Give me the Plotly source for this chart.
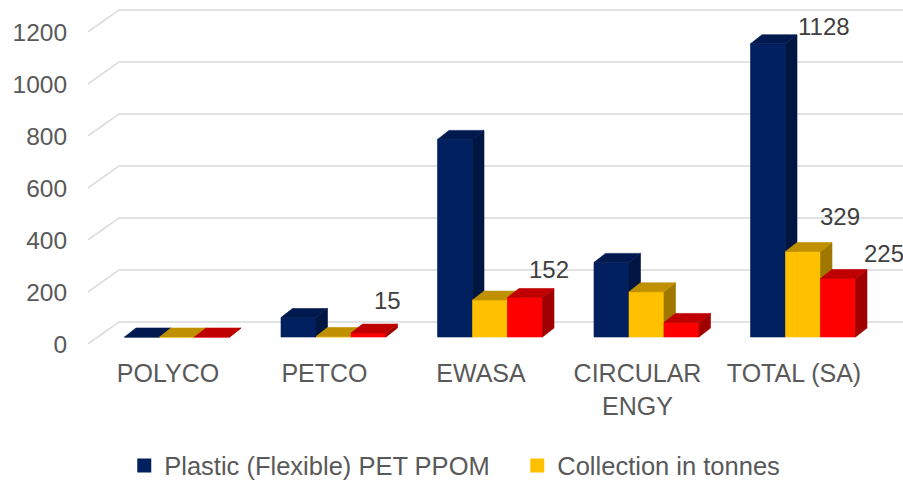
import plotly.graph_objects as go

# ---------------- data ----------------
categories = ["POLYCO", "PETCO", "EWASA", "CIRCULAR<br>ENGY", "TOTAL (SA)"]
series_names = ["Plastic (Flexible) PET PPOM", "Collection in tonnes", "Series 3"]
plastic_ppom = [0, 75, 760, 287, 1128]
collection_tonnes = [0, 2, 142, 174, 329]
series_3 = [0, 15, 152, 56, 225]
y_ticks = [0, 200, 400, 600, 800, 1000, 1200]
# data labels shown: (series index, category index)
labelled_points = [(0, 4), (1, 4), (2, 4), (2, 2), (2, 1)]

# ---------------- style ----------------
PX_PER_CAT = 156.5
PX_PER_UNIT = 0.26
BAR_W = 35 / PX_PER_CAT
OFFSETS = [-26 / PX_PER_CAT, 9 / PX_PER_CAT, 44 / PX_PER_CAT]
DEPTH_X = 11.5 / PX_PER_CAT
DEPTH_Y = 9 / PX_PER_UNIT
BASE = 7 / PX_PER_UNIT
GRID_DX = 31 / PX_PER_CAT
GRID_DY = 22 / PX_PER_UNIT
X0, X1 = -80 / PX_PER_CAT, (903 - 168) / PX_PER_CAT
Y0, Y1 = -6 / PX_PER_UNIT, 339 / PX_PER_UNIT

FACE_COLORS = [
    {"front": "#002060", "top": "#001a4f", "side": "#001642"},
    {"front": "#FFC000", "top": "#BF9000", "side": "#A07800"},
    {"front": "#FF0000", "top": "#C00000", "side": "#A00000"},
]
# pixel shifts of data labels (style only)
LABEL_SHIFTS = {(0, 4): (10, 17), (1, 4): (-3, 35), (2, 4): (6, 25),
                (2, 2): (-16, 28), (2, 1): (-14, 33)}
FONT = "Liberation Sans, Arial, sans-serif"
TEXT_GREY = "#595959"

all_series = [plastic_ppom, collection_tonnes, series_3]

fig = go.Figure()

# back wall gridlines with floor-perspective diagonal
gx, gy = [], []
for v in y_ticks:
    gx += [X0, X0 + GRID_DX, X1, None]
    gy += [v, v + GRID_DY, v + GRID_DY, None]
fig.add_trace(go.Scatter(x=gx, y=gy, mode="lines", line=dict(color="#D9D9D9", width=1.5),
                         hoverinfo="skip", showlegend=False))

# 3D bars: front, top and side faces built from the data values
for s, vals in enumerate(all_series):
    fx, fy, tx, ty, sx, sy = [], [], [], [], [], []
    for i, v in enumerate(vals):
        xl = i + OFFSETS[s] - BAR_W / 2
        xr = i + OFFSETS[s] + BAR_W / 2
        top = BASE + v
        fx += [xl, xr, xr, xl, xl, None]
        fy += [BASE, BASE, top, top, BASE, None]
        tx += [xl, xr, xr + DEPTH_X, xl + DEPTH_X, xl, None]
        ty += [top, top, top + DEPTH_Y, top + DEPTH_Y, top, None]
        sx += [xr, xr + DEPTH_X, xr + DEPTH_X, xr, xr, None]
        sy += [BASE, BASE + DEPTH_Y, top + DEPTH_Y, top, BASE, None]
    for face, xs, ys in (("front", fx, fy), ("side", sx, sy), ("top", tx, ty)):
        c = FACE_COLORS[s][face]
        fig.add_trace(go.Scatter(x=xs, y=ys, mode="lines", fill="toself", fillcolor=c,
                                 line=dict(color=c, width=0.6), hoverinfo="skip",
                                 showlegend=False, name=series_names[s]))

# legend entries (first two series only, as in the original)
for s in range(2):
    fig.add_trace(go.Scatter(x=[None], y=[None], mode="markers", name=series_names[s],
                             marker=dict(symbol="square", size=14,
                                         color=FACE_COLORS[s]["front"]),
                             showlegend=True))

for (s, i) in labelled_points:
    v = all_series[s][i]
    xr = i + OFFSETS[s] + BAR_W / 2
    dx, dy = LABEL_SHIFTS[(s, i)]
    fig.add_annotation(x=xr, y=BASE + v, text=str(v), showarrow=False,
                       xanchor="left", yanchor="middle", xshift=dx, yshift=dy,
                       font=dict(family=FONT, size=24, color="#404040"))

fig.update_layout(
    width=903, height=485,
    margin=dict(l=88, r=0, t=5, b=135, autoexpand=False),
    paper_bgcolor="white", plot_bgcolor="white",
    font=dict(family=FONT, size=24, color=TEXT_GREY),
    showlegend=True,
    legend=dict(orientation="h", x=0.0445, xanchor="left", y=-0.336, yanchor="middle",
                font=dict(family=FONT, size=25.5, color=TEXT_GREY),
                entrywidth=348, entrywidthmode="pixels", bgcolor="rgba(0,0,0,0)"),
    xaxis=dict(range=[X0, X1], tickmode="array", tickvals=list(range(len(categories))),
               ticktext=categories, showgrid=False, zeroline=False, showline=False,
               ticks="outside", ticklen=1, tickcolor="rgba(0,0,0,0)",
               tickfont=dict(family=FONT, size=25, color=TEXT_GREY), fixedrange=True),
    yaxis=dict(range=[Y0, Y1], tickmode="array", tickvals=y_ticks,
               showgrid=False, zeroline=False, showline=False,
               ticks="outside", ticklen=15, tickcolor="rgba(0,0,0,0)",
               tickfont=dict(family=FONT, size=24.5, color=TEXT_GREY), fixedrange=True),
    hovermode=False,
)

fig.write_html("out.html")
